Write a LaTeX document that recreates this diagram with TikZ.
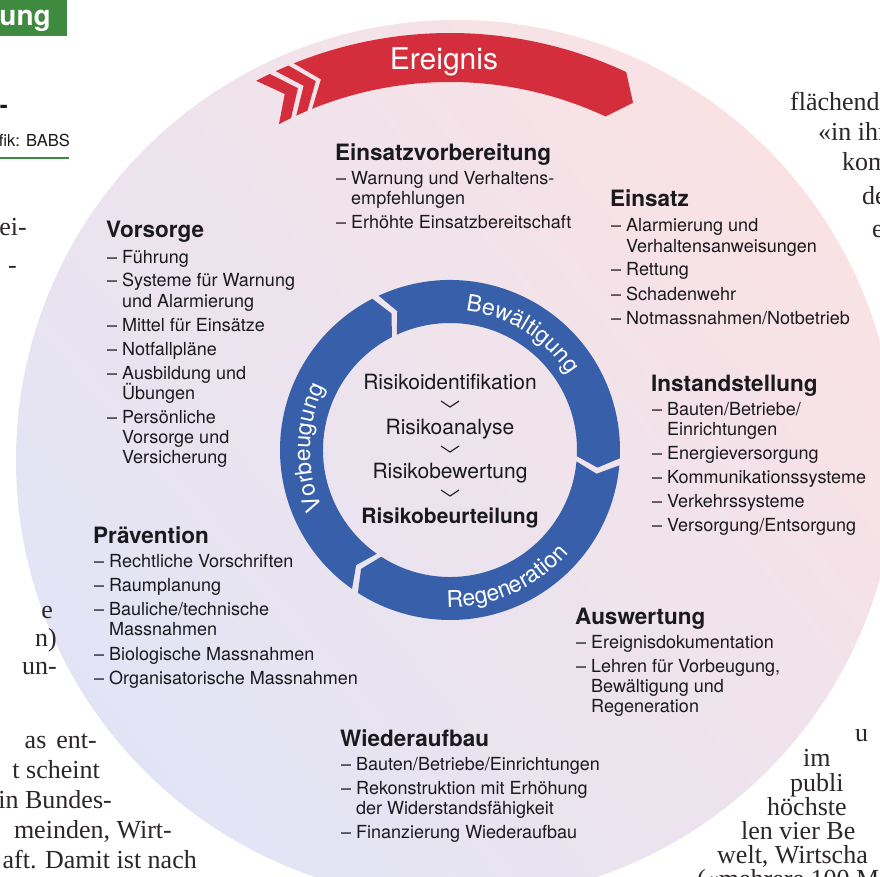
\documentclass[tikz,border=0pt]{standalone}
\usepackage{fontspec}
\setmainfont{TeX Gyre Heros}
\newfontfamily\serif{Liberation Serif}
\usetikzlibrary{decorations.text}
\definecolor{ringblue}{RGB}{56,96,170}
\definecolor{evred}{RGB}{212,46,60}
\definecolor{txt}{RGB}{25,25,30}
\definecolor{pinkbg}{RGB}{250,226,228}
\definecolor{lavbg}{RGB}{226,228,246}
\definecolor{grn}{RGB}{62,138,62}
\definecolor{serifc}{RGB}{45,38,38}
\newcommand\ringfont{\fontsize{23}{23}\selectfont}
\tikzset{
  body/.style={font=\fontsize{18}{20}\selectfont, text=txt, inner sep=0pt, anchor=base west},
  head/.style={font=\fontsize{22.5}{24}\selectfont\bfseries, text=txt, inner sep=0pt, anchor=base west},
  risk/.style={font=\fontsize{21}{24}\selectfont, text=txt, inner sep=0pt, anchor=base},
  paperL/.style={font=\serif\fontsize{26}{30}\selectfont, text=serifc, inner sep=0pt, anchor=base east},
  paperR/.style={font=\serif\fontsize{26}{30}\selectfont, text=serifc, inner sep=0pt, anchor=base west},
  ringtext/.style={decorate, decoration={text along path, text align=center, text color=white, text={|\ringfont|#1}}},
}
% ring / banner segment: colour, outer start angle, outer end angle, notch depth, inner r, outer r
\newcommand\bandseg[6]{%
  \fill[#1] (#2:#6) arc[start angle=#2, end angle=#3, radius=#6]
    -- ({#3-#4}:{(#5+#6)/2}) -- (#3:#5)
    arc[start angle=#3, end angle=#2, radius=#5]
    -- ({#2-#4}:{(#5+#6)/2}) -- cycle;}
\newcommand\itemlist[3]{%
  \foreach [count=\i] \yy/\ff/\lbl in {#3}{%
    \node[body] (#1\i) at ({#2+16},-\yy) {\lbl};
    \ifnum\ff=1 \node[body] (#1d\i) at ({#2+1},-\yy) {–};\fi
  }%
}
\begin{document}
\begin{tikzpicture}[x=1pt,y=1pt]
\useasboundingbox (0,0) rectangle (880,-877);
\clip (0,0) rectangle (880,-877);
\fill[white] (0,0) rectangle (880,-877);
% big background disc
\shade[top color=pinkbg, bottom color=lavbg, shading angle=-50] (456,-460) circle[radius=440];

% outside page elements
\fill[grn] (0,0) rectangle (67,-36);
\node[font=\fontsize{28}{28}\selectfont\bfseries, text=white, anchor=base east, inner sep=0] (hdr) at (51,-26) {ung};
\node[font=\fontsize{24}{24}\selectfont\bfseries, text=txt, anchor=base east, inner sep=0] (hy) at (8,-114) {-};
\node[font=\fontsize{16.5}{18}\selectfont, text=txt, anchor=base east, inner sep=0] (credit) at (70,-147) {fik: BABS};
\coordinate (rule0) at (0,-158);
\coordinate (rule1) at (69,-158);
\draw[grn, line width=2] (rule0) -- (rule1);
\node[paperL] (pl1) at (27,-236) {ei-};
\node[paperL] (pl2) at (17,-273) {-};
\node[paperL] (pl3) at (53,-618) {e};
\node[paperL] (pl4) at (57,-646) {n)};
\node[paperL] (pl5) at (57,-674) {un-};
\node[paperL] (pl6) at (97,-748) {as\hspace{10pt}ent-};
\node[paperL] (pl7) at (100,-778) {t scheint};
\node[paperL] (pl8) at (112,-808) {g in Bundes-};
\node[paperL] (pl9) at (172,-838) {meinden, Wirt-};
\node[paperL] (pl10) at (197,-868) {aft. Damit ist nach};
\node[paperR] (pr1) at (790,-111) {flächend};
\node[paperR] (pr2) at (818,-141) {«in ihr};
\node[paperR] (pr3) at (842,-171) {kom};
\node[paperR] (pr4) at (862,-205) {de};
\node[paperR] (pr5) at (872,-238) {e};
\node[paperR] (pr6) at (855,-741) {u};
\node[paperR] (pr7) at (803,-766) {im};
\node[paperR] (pr8) at (790,-791) {publi};
\node[paperR] (pr9) at (767,-815) {höchste};
\node[paperR] (pr10) at (741,-839) {len vier Be};
\node[paperR] (pr11) at (717,-863) {welt, Wirtscha};
\node[paperR] (pr12) at (697,-887) {(«mehrere 100 M};

% ring and banner
\begin{scope}[shift={(450,-450)}]
  \bandseg{ringblue}{234.8}{117.2}{4}{127}{170}
  \bandseg{ringblue}{114.8}{-2.8}{4}{127}{170}
  \bandseg{ringblue}{-5.2}{-122.8}{4}{127}{170}
  \bandseg{evred}{112}{65}{2.8}{368}{417}
  \bandseg{evred}{114.7}{112.8}{2.8}{368}{417}
  \bandseg{evred}{117.7}{115.6}{2.8}{368}{417}
  \path[ringtext=Bewältigung] (103:140) arc[start angle=103, end angle=13, radius=140];
  \path[ringtext=Vorbeugung] (224:140) arc[start angle=224, end angle=134, radius=140];
  \path[ringtext=Regeneration] (249:157) arc[start angle=249, end angle=339, radius=157];
\end{scope}
\node[font=\fontsize{30}{30}\selectfont, text=white, anchor=base, inner sep=0] (ereignis) at (444,-70) {Ereignis};

% centre
\node[risk] (r1) at (450,-389) {Risikoidentifikation};
\node[risk] (r2) at (450,-434) {Risikoanalyse};
\node[risk] (r3) at (450,-478) {Risikobewertung};
\node[risk, font=\fontsize{21}{24}\selectfont\bfseries] (r4) at (450,-523) {Risikobeurteilung};
\foreach \cy in {404,449,493}
  \draw[txt, line width=1.1] (441,-\cy+3) -- (450,-\cy-3) -- (459,-\cy+3);

% blocks
\node[head] (hevb) at (335,-161) {Einsatzvorbereitung};
\itemlist{evb}{335}{185/1/{Warnung und Verhaltens-}, 205/0/{empfehlungen}, 229/1/{Erhöhte Einsatzbereitschaft}}

\node[head] (hvs) at (106,-238) {Vorsorge};
\itemlist{vs}{106}{263/1/{Führung}, 287/1/{Systeme für Warnung}, 307/0/{und Alarmierung}, 331/1/{Mittel für Einsätze}, 355/1/{Notfallpläne}, 379/1/{Ausbildung und}, 399/0/{Übungen}, 423/1/{Persönliche}, 443/0/{Vorsorge und}, 463/0/{Versicherung}}

\node[head] (hes) at (610,-207) {Einsatz};
\itemlist{es}{610}{232/1/{Alarmierung und}, 252/0/{Verhaltensanweisungen}, 276/1/{Rettung}, 300/1/{Schadenwehr}, 324/1/{Notmassnahmen/Notbetrieb}}

\node[head] (his) at (651,-391) {Instandstellung};
\itemlist{is}{651}{415/1/{Bauten/Betriebe/}, 435/0/{Einrichtungen}, 459/1/{Energieversorgung}, 483/1/{Kommunikationssysteme}, 507/1/{Verkehrssysteme}, 531/1/{Versorgung/Entsorgung}}

\node[head] (hpr) at (93,-543) {Prävention};
\itemlist{pr}{93}{567/1/{Rechtliche Vorschriften}, 591/1/{Raumplanung}, 615/1/{Bauliche/technische}, 635/0/{Massnahmen}, 660/1/{Biologische Massnahmen}, 684/1/{Organisatorische Massnahmen}}

\node[head] (hau) at (575,-624) {Auswertung};
\itemlist{au}{575}{648/1/{Ereignisdokumentation}, 672/1/{Lehren für Vorbeugung,}, 692/0/{Bewältigung und}, 712/0/{Regeneration}}

\node[head] (hwa) at (340,-746) {Wiederaufbau};
\itemlist{wa}{340}{770/1/{Bauten/Betriebe/Einrichtungen}, 794/1/{Rekonstruktion mit Erhöhung}, 814/0/{der Widerstandsfähigkeit}, 838/1/{Finanzierung Wiederaufbau}}
\end{tikzpicture}
\end{document}
